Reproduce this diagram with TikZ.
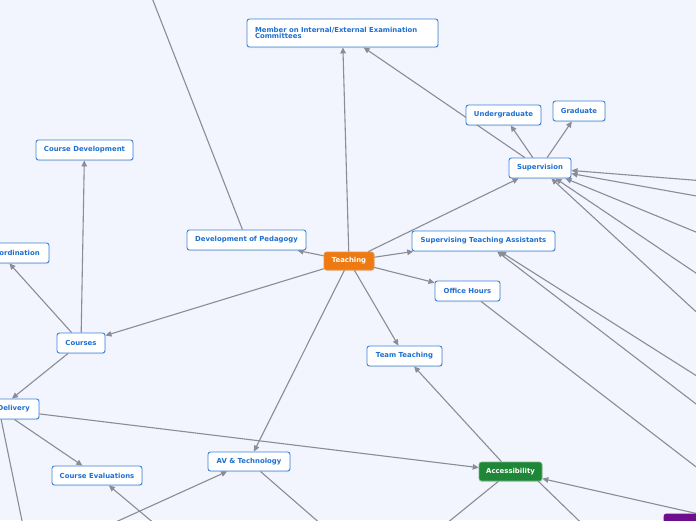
\documentclass[tikz,border=0pt]{standalone}
\usepackage{fontspec}
\newfontfamily\mapfont{DejaVu Sans}
\usetikzlibrary{arrows.meta,shadows,calc}
\definecolor{bg}{HTML}{F2F5FD}
\definecolor{nodeblue}{HTML}{3A83DA}
\definecolor{textblue}{HTML}{1F6FD0}
\definecolor{edgegray}{HTML}{8A8C96}
\definecolor{orangefill}{HTML}{EE7A12}
\definecolor{greenfill}{HTML}{1E8636}
\definecolor{purplefill}{HTML}{6E0E8C}
\pgfdeclarelayer{back}
\pgfdeclarelayer{edges}
\pgfsetlayers{back,edges,main}
\tikzset{
  topic/.style={draw=nodeblue, line width=0.9pt, fill=white, rounded corners=2.5pt,
    text=textblue, font=\mapfont\bfseries\fontsize{6.9}{8}\selectfont,
    minimum height=20pt, inner sep=0pt,
    drop shadow={opacity=0.18, shadow xshift=0.6pt, shadow yshift=-1pt}},
  central/.style={topic, draw=orangefill!85!white, fill=orangefill, text=white, line width=0.6pt},
  greentopic/.style={topic, draw=greenfill!60!white, fill=greenfill, text=white, line width=0.6pt},
  purpletopic/.style={topic, draw=purplefill, fill=purplefill, text=white},
  edge/.style={draw=edgegray, line width=1.1pt, -{Triangle[length=6pt,width=5.5pt]}}
}
\begin{document}
\begin{tikzpicture}[x=1pt,y=-1pt]
\useasboundingbox (0,0) rectangle (696,520);
\begin{pgfonlayer}{back}
\fill[bg] (0,0) rectangle (696,520);
\end{pgfonlayer}
\begin{scope}
\clip (0,0) rectangle (696,520);
\node[topic, minimum height=28pt, text width=175pt, align=left, inner xsep=8pt] (member) at (342.5,33) {Member on Internal/External Examination\\[-1.2pt]Committees};
\node[topic, minimum width=97pt] (cdev) at (84.5,150) {Course Development};
\node[topic, minimum width=98pt] (coord) at (0,253) {Course Coordination};
\node[topic, minimum width=119pt] (devped) at (246.5,240) {Development of Pedagogy};
\node[central, minimum width=50pt, minimum height=18pt] (teach) at (349,261) {Teaching};
\node[topic, minimum width=75pt] (under) at (503.5,115) {Undergraduate};
\node[topic, minimum width=52pt] (grad) at (579,111) {Graduate};
\node[topic, minimum width=62pt] (sup) at (540,168) {Supervision};
\node[topic, minimum width=143pt] (sta) at (483.5,241) {Supervising Teaching Assistants};
\node[topic, minimum width=65pt] (oh) at (467.5,291) {Office Hours};
\node[topic, minimum width=48pt] (courses) at (81,343) {Courses};
\node[topic, minimum width=75pt] (team) at (404.5,356) {Team Teaching};
\node[topic, minimum width=80pt] (deliv) at (-1,409) {Course Delivery};
\node[topic, minimum width=90pt, minimum height=19pt] (ceval) at (97,475.5) {Course Evaluations};
\node[topic, minimum width=82pt, minimum height=19pt] (av) at (249,461.5) {AV \& Technology};
\node[greentopic, minimum width=63pt, minimum height=19pt] (acc) at (510.5,471.5) {Accessibility};
\node[purpletopic, minimum width=158pt] (purple) at (743,524) {};
\end{scope}
\coordinate (o1) at (138,-38);
\coordinate (o2) at (180,545);
\coordinate (o3) at (65,545);
\coordinate (o4) at (345,545);
\coordinate (o5) at (420,545);
\coordinate (o6) at (604,545);
\coordinate (o8) at (730,493);
\coordinate (o9) at (730,397);
\coordinate (o10) at (730,430);
\coordinate (o11) at (730,183);
\coordinate (o12) at (730,202);
\coordinate (o13) at (730,246);
\coordinate (o14) at (730,296);
\coordinate (o15) at (730,343);
\coordinate (o16) at (27,545);
\begin{pgfonlayer}{edges}
\clip (0,0) rectangle (696,520);
\draw[edge] (teach) -- (member);
\draw[edge] (teach) -- (devped);
\draw[edge] (teach) -- (sup);
\draw[edge] (teach) -- (sta);
\draw[edge] (teach) -- (oh);
\draw[edge] (teach) -- (team);
\draw[edge] (teach) -- (av);
\draw[edge] (teach) -- (courses);
\draw[edge] (sup) -- (under);
\draw[edge] (sup) -- (grad);
\draw[edge] (sup) -- (member);
\draw[edge] (courses) -- (cdev);
\draw[edge] (courses) -- (coord);
\draw[edge] (courses) -- (deliv);
\draw[edge] (deliv) -- (acc);
\draw[edge] (deliv) -- (ceval);
\draw[edge] (deliv) -- (o16);
\draw[edge] (devped) -- (o1);
\draw[edge] (o2) -- (ceval);
\draw[edge] (o3) -- (av);
\draw[edge] (av) -- (o4);
\draw[edge] (acc) -- (o5);
\draw[edge] ($(acc.south east)+(-4,0)$) -- (o6);
\draw[edge] (purple) -- (acc);
\draw[edge] (acc) -- (team);
\draw[edge] (oh) -- (o8);
\draw[edge] (o9) -- (sta);
\draw[edge] (o10) -- (sta);
\draw[edge] (o11) -- (sup);
\draw[edge] (o12) -- (sup);
\draw[edge] (o13) -- (sup);
\draw[edge] (o14) -- (sup);
\draw[edge] (o15) -- (sup);
\end{pgfonlayer}
\end{tikzpicture}
\end{document}
